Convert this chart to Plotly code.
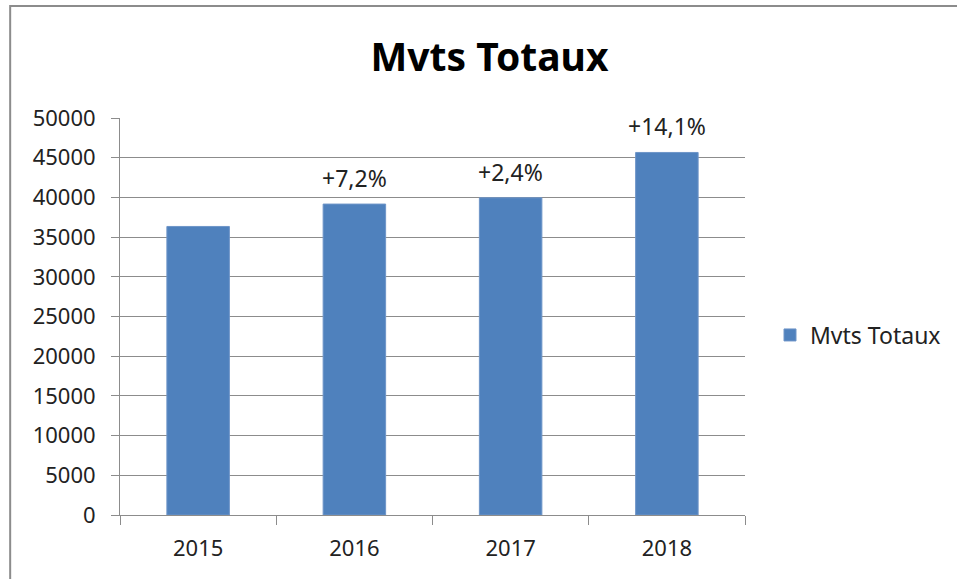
import plotly.graph_objects as go

categories = ["2015", "2016", "2017", "2018"]
values = [36340, 39160, 39950, 45660]
growth_labels = ["", "+7,2%", "+2,4%", "+14,1%"]
series_name = "Mvts Totaux"
y_ticks = list(range(0, 50001, 5000))

FONT = "Noto Sans, Open Sans, sans-serif"
BAR_COLOR = "#4f81bd"
AXIS_GREY = "#8c8c8c"

L, R, T, B = 120, 957 - 746, 118, 579 - 515
PW, PH = 746 - L, 515 - T

fig = go.Figure()
fig.add_trace(go.Bar(
    x=categories, y=values, name=series_name,
    marker=dict(color=BAR_COLOR, line=dict(color="#6e95c8", width=1)),
    width=0.4, showlegend=True,
))

for i, (v, t) in enumerate(zip(values, growth_labels)):
    if t:
        fig.add_annotation(x=i, y=v, xref="x", yref="y", text=t, showarrow=False,
                           yanchor="bottom", yshift=8,
                           font=dict(family=FONT, size=23, color="#222"))

fig.add_shape(type="rect", xref="paper", yref="paper",
              x0=(10 - L) / PW, x1=(962 - L) / PW,
              y0=(515 - 584) / PH, y1=(515 - 6) / PH,
              line=dict(color=AXIS_GREY, width=2), layer="below")

fig.update_layout(
    width=957, height=579,
    margin=dict(l=L, r=R, t=T, b=B),
    paper_bgcolor="white", plot_bgcolor="white",
    font=dict(family=FONT, size=22, color="#222"),
    title=dict(text="<b>Mvts Totaux</b>", x=489.5 / 957, xanchor="center",
               y=1 - 57 / 579, yanchor="middle",
               font=dict(family=FONT, size=39, color="#000")),
    showlegend=True,
    legend=dict(x=(770 - L) / PW, y=(515 - 335) / PH, xanchor="left", yanchor="middle",
                font=dict(family=FONT, size=23, color="#222"),
                bgcolor="rgba(0,0,0,0)"),
)
fig.update_xaxes(
    type="category", showline=True, linecolor=AXIS_GREY, linewidth=1,
    ticks="outside", tickson="boundaries", ticklen=9, tickcolor=AXIS_GREY,
    showgrid=False, tickfont=dict(size=22), range=[-0.5, 3.5],
    ticklabelstandoff=14,
)
fig.update_yaxes(
    range=[0, 50000], tickvals=y_ticks, ticktext=[str(t) for t in y_ticks],
    showline=True, linecolor=AXIS_GREY, linewidth=1,
    ticks="outside", ticklen=8, tickcolor=AXIS_GREY,
    showgrid=True, gridcolor=AXIS_GREY, gridwidth=1,
    zeroline=False, tickfont=dict(size=22), ticklabelstandoff=11,
)

fig.write_html("out.html", config={"displayModeBar": False},
               post_script="document.body.style.margin='0';")
